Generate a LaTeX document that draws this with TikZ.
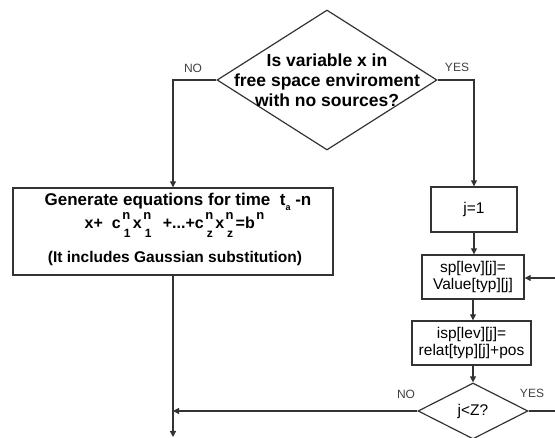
\documentclass[tikz,border=0pt]{standalone}
\usepackage{fontspec}
\setmainfont{Liberation Sans}
\usetikzlibrary{shapes.geometric,arrows.meta}
\newcommand\supsub[2]{\hspace{1.5pt}\rlap{\raisebox{8.5pt}{\fontsize{13}{13}\selectfont #1}}\raisebox{-9.2pt}{\fontsize{12}{12}\selectfont\hspace{1.5pt}#2}\hspace{2.5pt}}
\newcommand\supone[1]{\hspace{1.5pt}\raisebox{8.5pt}{\fontsize{13}{13}\selectfont #1}}
\begin{document}
\begin{tikzpicture}[x=1pt,y=-1pt,
  line/.style={draw=black!80,line width=1.2pt},
  arr/.style={line,-{Triangle[length=6pt,width=6pt]}},
  boxnode/.style={draw=black!80,line width=1.4pt,rectangle,inner sep=0pt,align=center},
  dia/.style={draw=black!80,line width=1.2pt,diamond,inner sep=0pt},
  lbl/.style={text=black!75,font=\fontsize{12}{12}\selectfont},
  smalltxt/.style={font=\fontsize{15.5}{17}\selectfont}]
\useasboundingbox (0,0) rectangle (555,438);
% main decision
\node[dia,minimum width=220pt,minimum height=140pt] (d1) at (327,80) {};
\node[align=center,font=\bfseries\fontsize{17.5}{20}\selectfont] (d1t) at (327,80) {Is variable x in\\free space enviroment\\with no sources?};
% generate box
\node[boxnode,minimum width=320pt,minimum height=87pt] (b1) at (173,231.5) {};
\node[align=center,font=\bfseries\fontsize{17}{20}\selectfont] (b1a) at (178,202) {Generate equations for time\ \ t\raisebox{-0.25em}{\fontsize{9}{9}\selectfont a} -n};
\node[align=center,font=\bfseries\fontsize{16}{18}\selectfont,anchor=base,inner sep=0pt] (b1b) at (174.5,228.5) {x+ \ c\supsub{n}{1}x\supsub{n}{1} \ +...+c\supsub{n}{z}x\supsub{n}{z}=b\supone{n}};
\node[align=center,font=\bfseries\fontsize{15.5}{18}\selectfont] (b1c) at (175,258) {(It includes Gaussian substitution)};
% right chain
\node[boxnode,smalltxt,minimum width=86pt,minimum height=45pt] (j1) at (474,209.5) {j=1};
\node[boxnode,smalltxt,minimum width=102pt,minimum height=44pt] (sp) at (473,277) {sp[lev][j]=\\Value[typ][j]};
\node[boxnode,smalltxt,minimum width=119pt,minimum height=44pt] (isp) at (471.5,343) {isp[lev][j]=\\relat[typ][j]+pos};
\node[dia,smalltxt,minimum width=110pt,minimum height=56pt] (d2) at (473,411) {};
\node[smalltxt] (d2t) at (473,411) {j<Z?};
% coordinates
\coordinate (out) at (173,437);
\coordinate (join) at (173,411);
\coordinate (r1) at (555,411);
\coordinate (r2) at (555,278);
% connectors
\draw[arr] (d1.west) -| (b1.north);
\draw[arr] (d1.east) -| (j1.north);
\draw[arr] (j1.south) -- (j1.south |- sp.north);
\draw[arr] (sp.south) -- (sp.south |- isp.north);
\draw[arr] (isp.south -| d2.north) -- (d2.north);
\draw[arr] (b1.south) -- (out);
\draw[arr] (d2.west) -- (join);
\draw[line] (d2.east) -- (r1);
\draw[arr] (r2) -- (r2 -| sp.east);
% labels
\node[lbl] (no1) at (193,68) {NO};
\node[lbl] (yes1) at (457,67) {YES};
\node[lbl] (no2) at (406,394) {NO};
\node[lbl] (yes2) at (532,393) {YES};
\end{tikzpicture}
\end{document}
